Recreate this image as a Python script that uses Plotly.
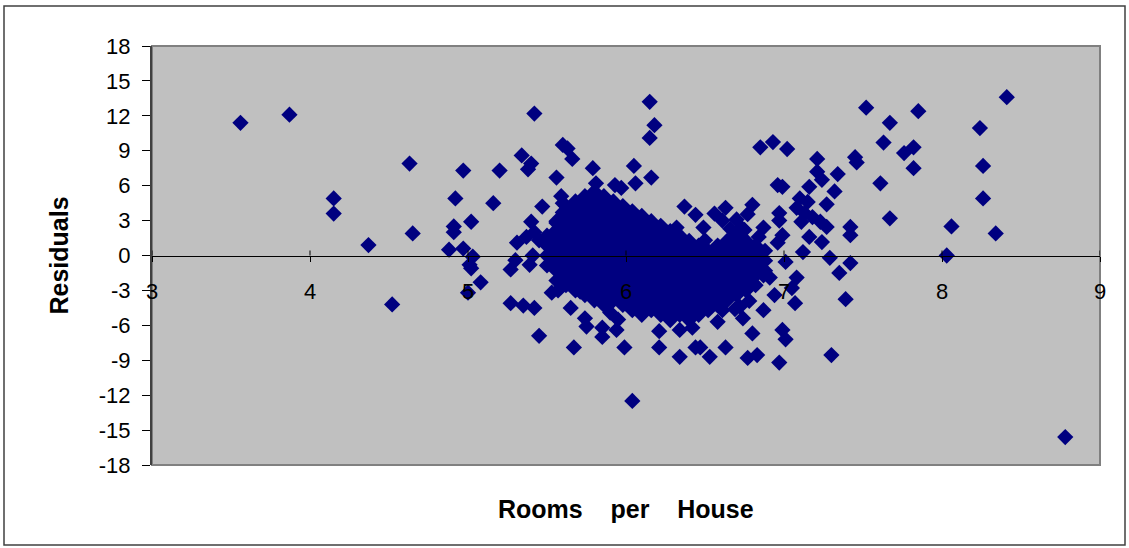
import plotly.graph_objects as go

# ---------------- data ----------------
X_TICKS = [3, 4, 5, 6, 7, 8, 9]
Y_TICKS = [-18, -15, -12, -9, -6, -3, 0, 3, 6, 9, 12, 15, 18]
Y_TICK_TEXT = ["-18", "-15", "-12", "-9", "-6", "-3", "0", "3", "6", "9", "12", "15", "18"]

# scattered / edge observations
rooms_outer = [
    3.56, 3.87, 4.15, 4.15, 4.37, 4.52, 4.63, 4.65, 4.97, 4.92,
    4.91, 4.91, 5.02, 4.88, 4.97, 5.03, 5.02, 5.00, 5.08, 5.42,
    5.20, 5.34, 5.40, 5.38, 5.60, 5.63, 5.66, 5.56, 5.16, 5.47,
    5.59, 5.40, 5.42, 5.31, 5.37, 5.45, 5.54, 5.56, 5.60, 5.60,
    5.01, 5.30, 5.41, 5.27, 5.39, 5.54, 5.60, 5.53, 5.57, 5.27,
    5.35, 5.42, 5.45, 5.65, 5.67, 6.15, 6.18, 6.15, 5.79, 6.05,
    6.16, 6.06, 5.81, 5.93, 5.97, 6.37, 6.44, 6.56, 6.63, 6.61,
    6.32, 6.49, 6.50, 6.63, 5.71, 5.74, 5.75, 5.85, 5.85, 5.94,
    5.90, 5.95, 5.99, 6.21, 6.21, 6.34, 6.44, 6.47, 6.53, 6.63,
    6.04, 6.34, 6.42, 6.58, 7.52, 7.67, 7.63, 6.85, 6.93, 7.02,
    7.21, 7.45, 7.46, 7.21, 7.24, 7.34, 7.32, 7.61, 7.16, 6.96,
    6.99, 7.10, 7.15, 7.27, 7.08, 7.13, 7.18, 7.23, 7.27, 7.42,
    7.42, 7.67, 6.80, 6.77, 6.97, 6.97, 7.11, 6.87, 6.84, 6.99,
    6.96, 7.16, 7.24, 6.73, 7.12, 7.29, 7.01, 7.42, 7.35, 7.39,
    6.87, 6.91, 7.08, 6.94, 7.07, 7.05, 6.87, 6.74, 6.80, 6.99,
    7.01, 6.77, 6.83, 6.97, 7.30, 6.61, 8.41, 7.85, 8.24, 7.76,
    7.82, 7.82, 8.26, 8.26, 8.06, 8.34, 8.03, 8.78,
    6.66, 6.70, 6.75, 6.69, 6.78, 6.72,
]
resid_outer = [
    11.4, 12.1, 4.9, 3.6, 0.9, -4.2, 7.9, 1.9, 7.3, 4.9,
    2.5, 2.0, 2.9, 0.5, 0.6, -0.1, -1.1, -3.2, -2.3, 12.2,
    7.3, 8.6, 7.9, 7.4, 9.5, 9.2, 8.3, 6.7, 4.5, 4.2,
    5.1, 2.9, 2.0, 1.1, 1.6, 1.3, 1.9, 2.8, 3.7, 4.5,
    -0.8, -0.4, 0.0, -1.2, -0.8, -0.8, -1.4, -3.2, -3.0, -4.1,
    -4.3, -4.5, -6.9, -4.5, -7.9, 13.2, 11.2, 10.1, 7.5, 7.7,
    6.7, 6.2, 6.2, 6.05, 5.8, 4.2, 3.5, 3.6, 4.1, 3.0,
    2.4, 2.4, 1.3, 0.7, -3.1, -5.4, -6.1, -6.2, -7.0, -6.4,
    -4.9, -5.5, -7.9, -6.5, -7.9, -8.7, -7.9, -7.9, -8.7, -7.9,
    -12.5, -6.4, -6.2, -5.7, 12.7, 11.4, 9.7, 9.3, 9.75, 9.15,
    8.3, 8.45, 8.0, 7.2, 6.5, 7.0, 5.5, 6.2, 5.9, 6.05,
    5.9, 4.9, 4.6, 4.4, 4.1, 3.65, 3.3, 2.9, 2.45, 2.45,
    1.75, 3.2, 4.35, 3.55, 3.65, 3.0, 2.9, 2.4, 1.6, 1.75,
    1.1, 1.6, 1.15, 2.4, 0.3, -0.2, -0.55, -0.65, -1.5, -3.75,
    -1.7, -1.9, -1.9, -3.4, -4.1, -2.8, -4.7, -5.4, -6.7, -6.4,
    -7.2, -8.8, -8.55, -9.2, -8.55, -4.7, 13.6, 12.4, 10.95, 8.8,
    9.3, 7.5, 7.7, 4.9, 2.5, 1.9, 0.0, -15.6,
    2.3, 3.1, 2.2, -4.6, -3.9, -4.4,
]

# the dense central cloud (points overlap into a solid mass)
rooms_core = [
    5.50, 5.50, 5.50, 5.50,
    5.56, 5.56, 5.56, 5.56, 5.56, 5.56, 5.56,
    5.62, 5.62, 5.62, 5.62, 5.62, 5.62, 5.62, 5.62, 5.62,
    5.68, 5.68, 5.68, 5.68, 5.68, 5.68, 5.68, 5.68, 5.68, 5.68,
    5.74, 5.74, 5.74, 5.74, 5.74, 5.74, 5.74, 5.74, 5.74, 5.74, 5.74,
    5.80, 5.80, 5.80, 5.80, 5.80, 5.80, 5.80, 5.80, 5.80, 5.80, 5.80, 5.80,
    5.86, 5.86, 5.86, 5.86, 5.86, 5.86, 5.86, 5.86, 5.86, 5.86, 5.86, 5.86,
    5.92, 5.92, 5.92, 5.92, 5.92, 5.92, 5.92, 5.92, 5.92, 5.92, 5.92,
    5.98, 5.98, 5.98, 5.98, 5.98, 5.98, 5.98, 5.98, 5.98, 5.98, 5.98,
    6.04, 6.04, 6.04, 6.04, 6.04, 6.04, 6.04, 6.04, 6.04, 6.04, 6.04,
    6.10, 6.10, 6.10, 6.10, 6.10, 6.10, 6.10, 6.10, 6.10, 6.10, 6.10,
    6.16, 6.16, 6.16, 6.16, 6.16, 6.16, 6.16, 6.16, 6.16, 6.16,
    6.22, 6.22, 6.22, 6.22, 6.22, 6.22, 6.22, 6.22, 6.22, 6.22,
    6.28, 6.28, 6.28, 6.28, 6.28, 6.28, 6.28, 6.28, 6.28, 6.28,
    6.34, 6.34, 6.34, 6.34, 6.34, 6.34, 6.34, 6.34, 6.34,
    6.40, 6.40, 6.40, 6.40, 6.40, 6.40, 6.40, 6.40, 6.40,
    6.46, 6.46, 6.46, 6.46, 6.46, 6.46, 6.46, 6.46,
    6.52, 6.52, 6.52, 6.52, 6.52, 6.52, 6.52,
    6.58, 6.58, 6.58, 6.58, 6.58, 6.58, 6.58,
    6.64, 6.64, 6.64, 6.64, 6.64, 6.64, 6.64,
    6.70, 6.70, 6.70, 6.70, 6.70, 6.70, 6.70,
    6.76, 6.76, 6.76, 6.76, 6.76, 6.76,
    6.82, 6.82, 6.82, 6.82, 6.82,
    6.88, 6.88, 6.88,
]
resid_core = [
    1.7, 0.85, 0.0, -0.85,
    2.95, 2.1, 1.25, 0.4, -0.45, -1.3, -2.15,
    4.25, 3.4, 2.55, 1.7, 0.85, 0.0, -0.85, -1.7, -2.55,
    4.65, 3.8, 2.95, 2.1, 1.25, 0.4, -0.45, -1.3, -2.15, -3.0,
    5.1, 4.25, 3.4, 2.55, 1.7, 0.85, 0.0, -0.85, -1.7, -2.55, -3.4,
    5.5, 4.65, 3.8, 2.95, 2.1, 1.25, 0.4, -0.45, -1.3, -2.15, -3.0, -3.85,
    5.1, 4.25, 3.4, 2.55, 1.7, 0.85, 0.0, -0.85, -1.7, -2.55, -3.4, -4.25,
    4.65, 3.8, 2.95, 2.1, 1.25, 0.4, -0.45, -1.3, -2.15, -3.0, -3.85,
    4.25, 3.4, 2.55, 1.7, 0.85, 0.0, -0.85, -1.7, -2.55, -3.4, -4.25,
    3.8, 2.95, 2.1, 1.25, 0.4, -0.45, -1.3, -2.15, -3.0, -3.85, -4.7,
    3.4, 2.55, 1.7, 0.85, 0.0, -0.85, -1.7, -2.55, -3.4, -4.25, -5.1,
    2.95, 2.1, 1.25, 0.4, -0.45, -1.3, -2.15, -3.0, -3.85, -4.7,
    2.55, 1.7, 0.85, 0.0, -0.85, -1.7, -2.55, -3.4, -4.25, -5.1,
    2.1, 1.25, 0.4, -0.45, -1.3, -2.15, -3.0, -3.85, -4.7, -5.55,
    1.7, 0.85, 0.0, -0.85, -1.7, -2.55, -3.4, -4.25, -5.1,
    1.25, 0.4, -0.45, -1.3, -2.15, -3.0, -3.85, -4.7, -5.55,
    0.85, 0.0, -0.85, -1.7, -2.55, -3.4, -4.25, -5.1,
    0.4, -0.45, -1.3, -2.15, -3.0, -3.85, -4.7,
    0.85, 0.0, -0.85, -1.7, -2.55, -3.4, -4.25,
    1.25, 0.4, -0.45, -1.3, -2.15, -3.0, -3.85,
    1.7, 0.85, 0.0, -0.85, -1.7, -2.55, -3.4,
    1.25, 0.4, -0.45, -1.3, -2.15, -3.0,
    0.85, 0.0, -0.85, -1.7, -2.55,
    0.4, -0.45, -1.3,
]

NB = "&nbsp;"
X_TITLE = "Rooms" + NB * 4 + "per" + NB * 4 + "House"
Y_TITLE = "Residuals"

# ---------------- layout geometry ----------------
W, H = 1129, 548
L, R, T, B = 152, 29, 46, 83
PW, PH = W - L - R, H - T - B

FONT = 'Arial, "Liberation Sans", sans-serif'
NAVY = "#000080"

fig = go.Figure()
fig.add_trace(go.Scatter(
    x=rooms_core + rooms_outer,
    y=resid_core + resid_outer,
    mode="markers",
    marker=dict(symbol="diamond", size=12.5, color=NAVY, line=dict(width=0)),
    hoverinfo="x+y",
))

shapes = [
    # plot-area frame
    dict(type="rect", xref="paper", yref="paper", x0=0, x1=1, y0=0, y1=1,
         line=dict(color="#808080", width=2), layer="below"),
    # outer chart frame
    dict(type="rect", xref="paper", yref="paper",
         x0=(4 - L) / PW, x1=(1125 - L) / PW,
         y0=(H - B - 545) / PH, y1=(H - B - 6) / PH,
         line=dict(color="#404040", width=1.5)),
]
# upper half of the cross tick marks on the horizontal axis
for v in X_TICKS:
    shapes.append(dict(type="line", xref="x", yref="paper", x0=v, x1=v,
                       y0=0.5, y1=0.5 + 5 / PH,
                       line=dict(color="black", width=1)))

fig.update_layout(
    width=W, height=H,
    margin=dict(l=L, r=R, t=T, b=B, pad=0, autoexpand=False),
    paper_bgcolor="white", plot_bgcolor="#C0C0C0",
    showlegend=False,
    font=dict(family=FONT, color="black", size=22),
    shapes=shapes,
    xaxis=dict(range=[3, 9], tickvals=X_TICKS, ticks="outside", ticklen=5,
               tickcolor="black", tickwidth=1, showline=True, linecolor="black",
               linewidth=1, anchor="free", position=0.5, showgrid=False,
               zeroline=False, tickfont=dict(size=22, family=FONT),
               ticklabelstandoff=11, automargin=False),
    yaxis=dict(range=[-18, 18], tickvals=Y_TICKS, ticktext=Y_TICK_TEXT,
               ticks="outside", ticklen=8,
               tickcolor="black", tickwidth=1, showline=True, linecolor="#404040",
               linewidth=2, showgrid=False, zeroline=False,
               tickfont=dict(size=22, family=FONT), ticklabelstandoff=7,
               automargin=False),
    annotations=[
        dict(text=Y_TITLE, xref="paper", yref="paper", x=(58 - L) / PW, y=0.5,
             xanchor="center", yanchor="middle", textangle=-90, showarrow=False,
             font=dict(size=25, family=FONT, weight="bold")),
        dict(text=X_TITLE, xref="paper", yref="paper", x=0.5,
             y=(H - B - 509) / PH, xanchor="center", yanchor="middle",
             showarrow=False, font=dict(size=25, family=FONT, weight="bold")),
    ],
)

fig.write_html("out.html", config={"displayModeBar": False},
               post_script="document.body.style.margin='0';")
